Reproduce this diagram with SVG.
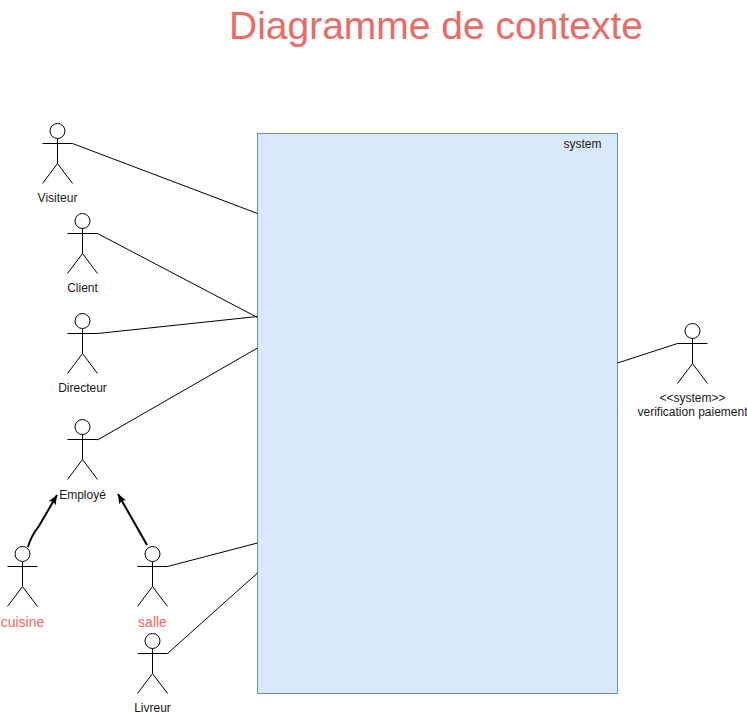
<svg xmlns="http://www.w3.org/2000/svg" width="747" height="714" viewBox="0 0 747 714">
<style>
text{font-family:"Liberation Sans",Arial,sans-serif;text-anchor:middle}
.l{font-size:12px;fill:#1a1a1a}
.r{font-size:14px;fill:#f66666}
.a{fill:#fff;stroke:#000;stroke-width:1}
.c{fill:none;stroke:#000;stroke-width:1}
.g{fill:none;stroke:#000;stroke-width:2}
</style>
<defs>
<g id="actor"><circle class="a" cx="0" cy="7.5" r="7.5"/><path class="c" d="M0 15V40M-15 20H15M-15 60L0 40L15 60"/></g>
<marker id="arrow" markerUnits="userSpaceOnUse" markerWidth="10" markerHeight="9" refX="9.5" refY="4.5" orient="auto" viewBox="0 0 10 9"><path d="M0 0.5L9.5 4.5L0 8.5L2 4.5Z" fill="#000"/></marker>
</defs>
<rect fill="#fff" width="747" height="714"/>
<text id="title" x="436" y="39" style="font-size:39px;fill:#ea6b66">Diagramme de contexte</text>
<g id="system"><rect x="257.5" y="133.5" width="360" height="560" fill="#dae8fc" stroke="#6c8ebf"/><text class="l" x="582.5" y="148">system</text></g>
<g id="connectors">
<path class="c" d="M72.5 143.5L257.5 213.5"/>
<path class="c" d="M97.5 233.5L257.5 317.5"/>
<path class="c" d="M97.5 333.5L257.5 316.5"/>
<path class="c" d="M97.5 440L257.5 348"/>
<path class="c" d="M167.5 566.5L257.5 543"/>
<path class="c" d="M167.5 653.5L257.5 573"/>
<path class="c" d="M617.5 363L677.5 343.5"/>
<path class="g" d="M28 547Q31 536 39 526L57 495" marker-end="url(#arrow)"/>
<path class="g" d="M147 545L118 494" marker-end="url(#arrow)"/>
</g>
<g id="visiteur"><use href="#actor" x="57.5" y="123.5"/><text class="l" x="57.5" y="202">Visiteur</text></g>
<g id="client"><use href="#actor" x="82.5" y="213.5"/><text class="l" x="82.5" y="292">Client</text></g>
<g id="directeur"><use href="#actor" x="82.5" y="313.5"/><text class="l" x="82.5" y="392">Directeur</text></g>
<g id="employe"><use href="#actor" x="82.5" y="419.5"/><text class="l" x="82.5" y="499">Employé</text></g>
<g id="cuisine"><use href="#actor" x="22.5" y="546.5"/><text class="r" x="22.5" y="627">cuisine</text></g>
<g id="salle"><use href="#actor" x="152.5" y="546.5"/><text class="r" x="152.5" y="627">salle</text></g>
<g id="livreur"><use href="#actor" x="152.5" y="633.5"/><text class="l" x="152.5" y="712">Livreur</text></g>
<g id="verification"><use href="#actor" x="692.5" y="323.5"/><text class="l" x="692.5" y="402">&lt;&lt;system&gt;&gt;</text><text class="l" x="692.5" y="416">verification paiement</text></g>
</svg>
